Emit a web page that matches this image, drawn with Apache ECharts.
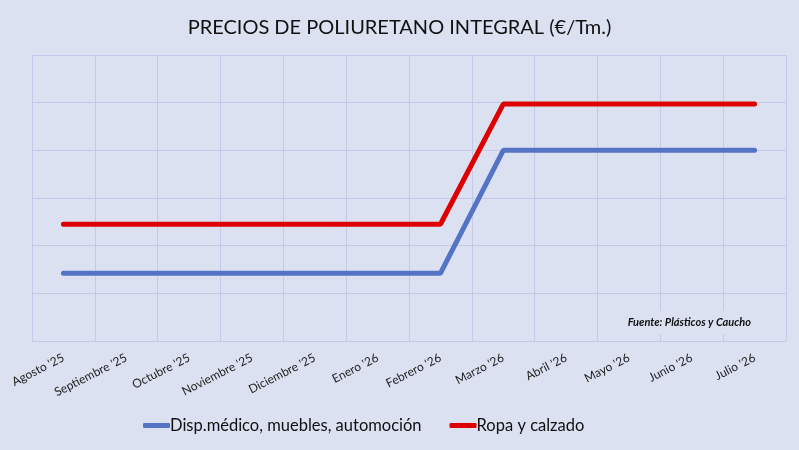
<!DOCTYPE html>
<html><head><meta charset="utf-8">
<script src="https://cdn.jsdelivr.net/npm/echarts@6/dist/echarts.min.js"></script>
<style>html,body{margin:0;padding:0;background:#dce1f2;}#c{width:799px;height:450px;}</style>
</head><body><div id="c"></div>
<script>
const categories = ["Agosto '25","Septiembre '25","Octubre '25","Noviembre '25","Diciembre '25","Enero '26","Febrero '26","Marzo '26","Abril '26","Mayo '26","Junio '26","Julio '26"];
const seriesNames = ["Disp.médico, muebles, automoción","Ropa y calzado"];
const bluValues = [1.42,1.42,1.42,1.42,1.42,1.42,1.42,4.0,4.0,4.0,4.0,4.0];
const redValues = [2.45,2.45,2.45,2.45,2.45,2.45,2.45,4.97,4.97,4.97,4.97,4.97];
const chart = echarts.init(document.getElementById('c'));
const font = "Lato, 'Open Sans', sans-serif";
chart.setOption({
  backgroundColor: '#dce1f2',
  animation: false,
  title: {text: 'PRECIOS DE POLIURETANO INTEGRAL (€/Tm.)', left: 'center', top: 13,
    textStyle: {fontFamily: font, fontSize: 20, fontWeight: 'normal', color: '#111'}},
  legend: {bottom: 11, left: 138, itemWidth: 27, itemHeight: 5, itemGap: 28, icon: 'roundRect',
    textStyle: {fontFamily: font, fontSize: 16.5, color: '#111', padding:[0,0,0,-5]}},
  grid: {left: 32, right: 13, top: 55, bottom: 109},
  xAxis: {type: 'category', data: categories, boundaryGap: true,
    axisLine: {show: false}, axisTick: {show: false},
    splitLine: {show: true, lineStyle: {color: '#c3c9e6', width: 1}},
    axisLabel: {rotate: 27, fontFamily: font, fontSize: 12, color: '#222', margin: 16, interval: 0}},
  yAxis: {type: 'value', min: 0, max: 6, interval: 1,
    axisLabel: {show: false}, axisLine: {show: false}, axisTick: {show: false},
    splitLine: {lineStyle: {color: '#c3c9e6', width: 1}}},
  graphic: [{type: 'text', right: 44, top: 311, z: 10,
    style: {text: 'Fuente: Plásticos y Caucho', font: "italic bold 11px Lato, sans-serif", fill: '#111',
      backgroundColor: '#dce1f2', padding: [6, 4]}}],
  series: [
    {name: seriesNames[0], type: 'line', data: bluValues, symbol: 'none', color: '#5573c5',
      lineStyle: {width: 5, color: '#5573c5', cap: 'round'}},
    {name: seriesNames[1], type: 'line', data: redValues, symbol: 'none', color: '#de0000',
      lineStyle: {width: 5, color: '#de0000', cap: 'round'}}
  ]
});
</script></body></html>
